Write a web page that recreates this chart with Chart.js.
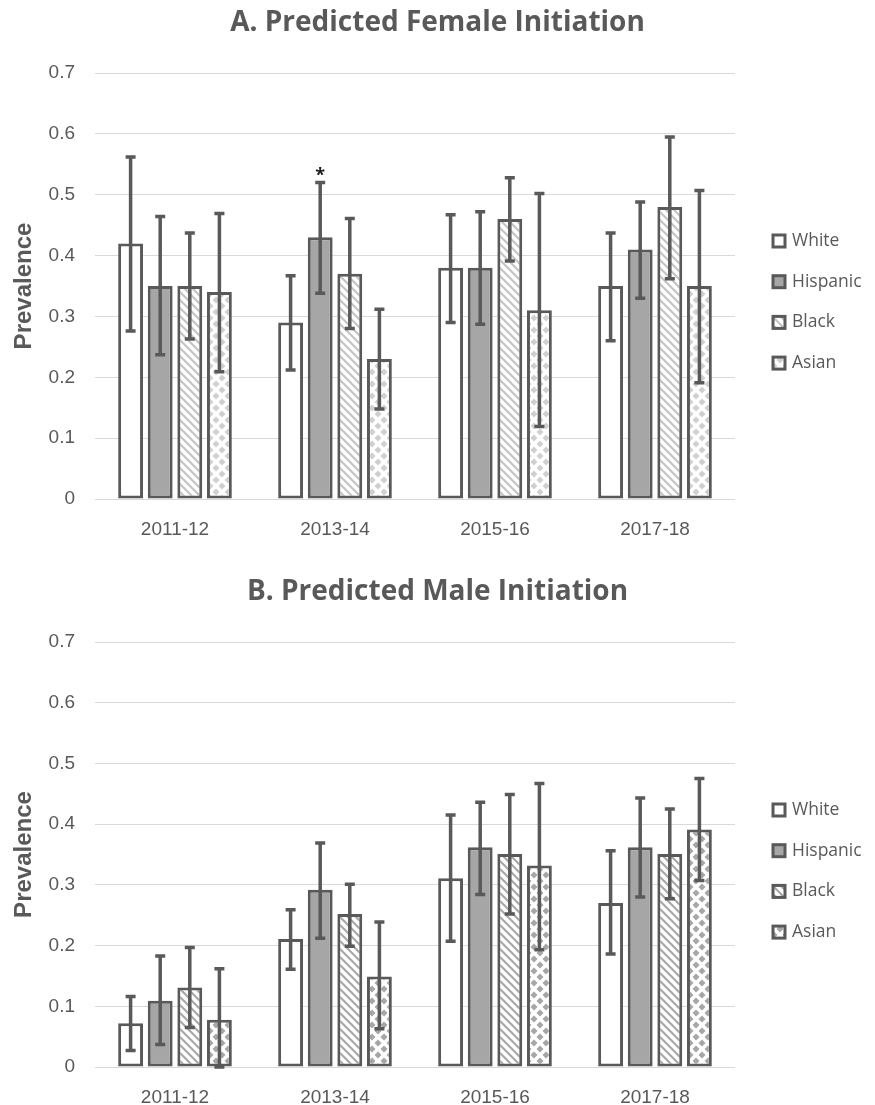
<!DOCTYPE html>
<html>
<head>
<meta charset="utf-8">
<script src="https://cdn.jsdelivr.net/npm/chart.js@4.4.1/dist/chart.umd.min.js"></script>
<style>
  body { margin: 0; background: #fff; }
  .panel { width: 875px; position: relative; }
</style>
</head>
<body>
<div class="panel" style="height:569px"><canvas id="femaleChart" width="875" height="569"></canvas></div>
<div class="panel" style="height:536px"><canvas id="maleChart" width="875" height="536"></canvas></div>
<script>
// ------------------------------------------------------
// data
// ------------------------------------------------------
const periods = ['2011-12', '2013-14', '2015-16', '2017-18'];
const groups = ['White', 'Hispanic', 'Black', 'Asian'];
const yTicks = [0, 0.1, 0.2, 0.3, 0.4, 0.5, 0.6, 0.7];

// A. female
const femaleWhite = [0.42, 0.29, 0.38, 0.35];
const femaleHispanic = [0.35, 0.43, 0.38, 0.41];
const femaleBlack = [0.35, 0.37, 0.46, 0.48];
const femaleAsian = [0.34, 0.23, 0.31, 0.35];
const femaleWhiteCI = [[0.276, 0.562], [0.212, 0.367], [0.290, 0.467], [0.260, 0.437]];
const femaleHispanicCI = [[0.237, 0.464], [0.338, 0.520], [0.287, 0.472], [0.330, 0.488]];
const femaleBlackCI = [[0.263, 0.437], [0.280, 0.461], [0.391, 0.528], [0.362, 0.595]];
const femaleAsianCI = [[0.209, 0.469], [0.148, 0.312], [0.119, 0.502], [0.191, 0.507]];
const femaleHispanicStars = ['', '*', '', ''];

// B. male
const maleWhite = [0.072, 0.211, 0.311, 0.27];
const maleHispanic = [0.109, 0.292, 0.362, 0.362];
const maleBlack = [0.131, 0.252, 0.351, 0.351];
const maleAsian = [0.078, 0.149, 0.332, 0.391];
const maleWhiteCI = [[0.027, 0.116], [0.161, 0.259], [0.207, 0.415], [0.186, 0.356]];
const maleHispanicCI = [[0.037, 0.183], [0.212, 0.369], [0.284, 0.436], [0.280, 0.443]];
const maleBlackCI = [[0.065, 0.197], [0.199, 0.301], [0.252, 0.449], [0.277, 0.425]];
const maleAsianCI = [[0.0, 0.162], [0.063, 0.239], [0.193, 0.467], [0.307, 0.475]];

const TEXT = '#595959';
const EDGE = '#595959';
const GRID = '#d9d9d9';
const TITLE_FONT = "'Open Sans', sans-serif";
const AXIS_FONT = "'Liberation Sans', Arial, sans-serif";

// patterns
function hatchPattern(ctx, color) {
  const c = document.createElement('canvas');
  c.width = 8; c.height = 8;
  const g = c.getContext('2d');
  g.fillStyle = '#fff'; g.fillRect(0, 0, 8, 8);
  g.strokeStyle = color; g.lineWidth = 2.2;
  g.beginPath();
  g.moveTo(-2, -2); g.lineTo(10, 10);
  g.moveTo(-2, 6); g.lineTo(2, 10);
  g.moveTo(6, -2); g.lineTo(10, 2);
  g.stroke();
  return ctx.createPattern(c, 'repeat');
}

function diamondPattern(ctx, color) {
  const c = document.createElement('canvas');
  c.width = 12; c.height = 12;
  const g = c.getContext('2d');
  g.fillStyle = '#fff'; g.fillRect(0, 0, 12, 12);
  g.fillStyle = color;
  const dia = (x, y) => {
    g.beginPath();
    g.moveTo(x, y - 3.5); g.lineTo(x + 3.5, y); g.lineTo(x, y + 3.5); g.lineTo(x - 3.5, y);
    g.closePath(); g.fill();
  };
  dia(6, 6); dia(0, 0); dia(12, 0); dia(0, 12); dia(12, 12);
  return ctx.createPattern(c, 'repeat');
}

// error bars + stars
const errorBarPlugin = {
  id: 'errorBars',
  afterDatasetsDraw(chart) {
    const { ctx, scales: { y } } = chart;
    ctx.save();
    ctx.strokeStyle = EDGE;
    ctx.lineWidth = 3.5;
    chart.data.datasets.forEach((ds, di) => {
      const meta = chart.getDatasetMeta(di);
      meta.data.forEach((bar, i) => {
        const [lo, hi] = ds.ci[i];
        const yLo = y.getPixelForValue(lo);
        const yHi = y.getPixelForValue(hi);
        ctx.beginPath();
        ctx.moveTo(bar.x, yLo); ctx.lineTo(bar.x, yHi);
        ctx.moveTo(bar.x - 5, yLo); ctx.lineTo(bar.x + 5, yLo);
        ctx.moveTo(bar.x - 5, yHi); ctx.lineTo(bar.x + 5, yHi);
        ctx.stroke();
        if (ds.stars && ds.stars[i]) {
          ctx.fillStyle = '#1a1a1a';
          ctx.font = 'bold 18px ' + TITLE_FONT;
          ctx.textAlign = 'center';
          ctx.textBaseline = 'alphabetic';
          ctx.fillText(ds.stars[i], bar.x, yHi - 2);
        }
      });
    });
    ctx.restore();
  }
};

// legend on the right
const sideLegendPlugin = {
  id: 'sideLegend',
  afterDraw(chart) {
    const { ctx } = chart;
    ctx.save();
    chart.data.datasets.forEach((ds, i) => {
      const cy = 241 + i * 40.7;
      ctx.fillStyle = ds.legendFill || ds.backgroundColor;
      ctx.fillRect(773, cy - 6, 12, 12);
      ctx.strokeStyle = EDGE;
      ctx.lineWidth = 3;
      ctx.strokeRect(773, cy - 6, 12, 12);
      ctx.fillStyle = TEXT;
      ctx.font = '17.5px ' + TITLE_FONT;
      ctx.textAlign = 'left';
      ctx.textBaseline = 'middle';
      ctx.fillText(ds.label, 792, cy);
    });
    ctx.restore();
  }
};

function renderPanel(canvasId, titleText, values, cis, stars, patternColor, bottomPad) {
  const canvas = document.getElementById(canvasId);
  const ctx = canvas.getContext('2d');
  const fills = ['#ffffff', '#a6a6a6', hatchPattern(ctx, patternColor.hatch), diamondPattern(ctx, patternColor.dots)];

  return new Chart(ctx, {
    type: 'bar',
    data: {
      labels: periods,
      datasets: groups.map((g, i) => ({
        label: g,
        data: values[i],
        ci: cis[i],
        stars: stars[i],
        backgroundColor: fills[i],
        borderColor: EDGE,
        borderWidth: 3,
        borderSkipped: false,
        categoryPercentage: 0.74,
        barPercentage: 0.84
      }))
    },
    options: {
      responsive: false,
      animation: false,
      layout: { padding: { left: 0, right: 0, top: 0, bottom: bottomPad } },
      plugins: {
        legend: { display: false },
        tooltip: { enabled: false },
        title: {
          display: true,
          text: titleText,
          color: TEXT,
          font: { family: TITLE_FONT, size: 28, weight: 'bold' },
          padding: { top: 6, bottom: 33.4 }
        }
      },
      scales: {
        y: {
          min: 0,
          max: 0.7,
          afterFit: s => { s.width = 95; },
          afterBuildTicks: s => { s.ticks = yTicks.map(v => ({ value: v })); },
          border: { display: false },
          grid: { color: GRID, lineWidth: 1, drawTicks: false },
          ticks: { color: TEXT, padding: 20, font: { family: AXIS_FONT, size: 19 } },
          title: {
            display: true,
            text: 'Prevalence',
            color: TEXT,
            font: { family: AXIS_FONT, size: 24, weight: 'bold' },
            padding: { top: 10, bottom: 0 }
          }
        },
        // empty right-hand axis that only reserves room for the legend
        legendSpace: {
          position: 'right',
          display: true,
          afterFit: s => { s.width = 140; },
          border: { display: false },
          grid: { display: false, drawTicks: false },
          ticks: { display: false }
        },
        x: {
          afterFit: s => { s.height = 38; },
          border: { display: false },
          grid: { display: false, drawTicks: false },
          ticks: { color: TEXT, padding: 19, font: { family: AXIS_FONT, size: 19 } }
        }
      }
    },
    plugins: [errorBarPlugin, sideLegendPlugin]
  });
}

renderPanel('femaleChart', 'A. Predicted Female Initiation',
  [femaleWhite, femaleHispanic, femaleBlack, femaleAsian],
  [femaleWhiteCI, femaleHispanicCI, femaleBlackCI, femaleAsianCI],
  [null, femaleHispanicStars, null, null],
  { hatch: '#c4c4c4', dots: '#d0d0d0' }, 32);

renderPanel('maleChart', 'B. Predicted Male Initiation',
  [maleWhite, maleHispanic, maleBlack, maleAsian],
  [maleWhiteCI, maleHispanicCI, maleBlackCI, maleAsianCI],
  [null, null, null, null],
  { hatch: '#a8a8a8', dots: '#a6a6a6' }, 0);
</script>
</body>
</html>
